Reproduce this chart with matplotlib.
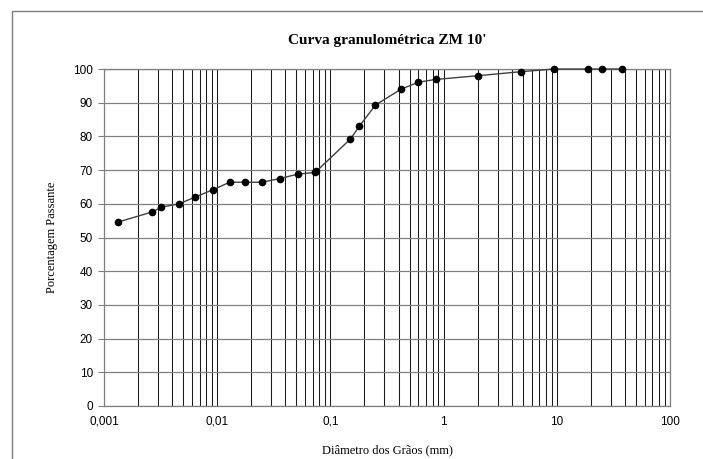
import matplotlib
matplotlib.use('Agg')
import matplotlib.pyplot as plt
from matplotlib.patches import Rectangle
from matplotlib.ticker import FixedLocator, FixedFormatter, NullFormatter

# sieve / sedimentation data (mm, % passing)
diametros = [0.00134, 0.00267, 0.00321, 0.0046, 0.0064, 0.0092, 0.0129, 0.0177,
             0.0247, 0.0359, 0.0514, 0.073, 0.075, 0.15, 0.18, 0.25, 0.42,
             0.6, 0.85, 2.0, 4.8, 9.5, 19.0, 25.0, 38.0]
passante = [54.6, 57.6, 59.0, 60.0, 62.0, 64.2, 66.4, 66.4, 66.4, 67.5, 68.8,
            69.3, 69.6, 79.2, 83.0, 89.3, 94.0, 96.1, 96.9, 98.0, 99.2,
            100, 100, 100, 100]

x_ticks = [0.001, 0.01, 0.1, 1, 10, 100]
x_labels = ['0,001', '0,01', '0,1', '1', '10', '100']
y_ticks = list(range(0, 101, 10))

fig = plt.figure(figsize=(7.03, 4.59), dpi=100)
ax = fig.add_axes([104/703, 1-406/459, 566/703, 337/459])

# border round the chart area
fig.patches.append(Rectangle((12/703, -0.05), 1.1, 1-11/459+0.05, transform=fig.transFigure,
                             fill=False, edgecolor='#7f7f7f', linewidth=1.0))

ax.set_xscale('log')
ax.set_xlim(0.001, 100)
ax.set_ylim(0, 100)

ax.xaxis.set_major_locator(FixedLocator(x_ticks))
ax.xaxis.set_major_formatter(FixedFormatter(x_labels))
minors = [m * 10.0**e for e in range(-3, 2) for m in range(2, 10)]
ax.xaxis.set_minor_locator(FixedLocator(minors))
ax.xaxis.set_minor_formatter(NullFormatter())
ax.set_yticks(y_ticks)

ax.grid(True, which='major', axis='x', color='#1a1a1a', linewidth=0.75)
ax.grid(True, which='minor', axis='x', color='#1a1a1a', linewidth=0.75)
ax.grid(True, which='major', axis='y', color='#808080', linewidth=0.9)
ax.set_axisbelow(True)

ax.tick_params(axis='x', which='both', length=0, pad=7, labelsize=8.5)
ax.tick_params(axis='y', length=4, color='#808080', pad=4, labelsize=8.5)
for lab in ax.get_xticklabels() + ax.get_yticklabels():
    lab.set_fontfamily('Liberation Sans')

for s in ax.spines.values():
    s.set_color('#808080')
    s.set_linewidth(0.9)

ax.plot(diametros, passante, color='#404040', linewidth=1.0, marker='o',
        markersize=4.5, markerfacecolor='black', markeredgecolor='black',
        zorder=3, clip_on=False)

ax.set_title("Curva granulométrica ZM 10'", fontfamily='Liberation Serif',
             fontweight='bold', fontsize=11, pad=18)
ax.set_xlabel('Diâmetro dos Grãos (mm)', fontfamily='Liberation Serif', fontsize=9, labelpad=12)
ax.set_ylabel('Porcentagem Passante', fontfamily='Liberation Serif', fontsize=9, labelpad=11)

fig.savefig('out.png', dpi=100)
